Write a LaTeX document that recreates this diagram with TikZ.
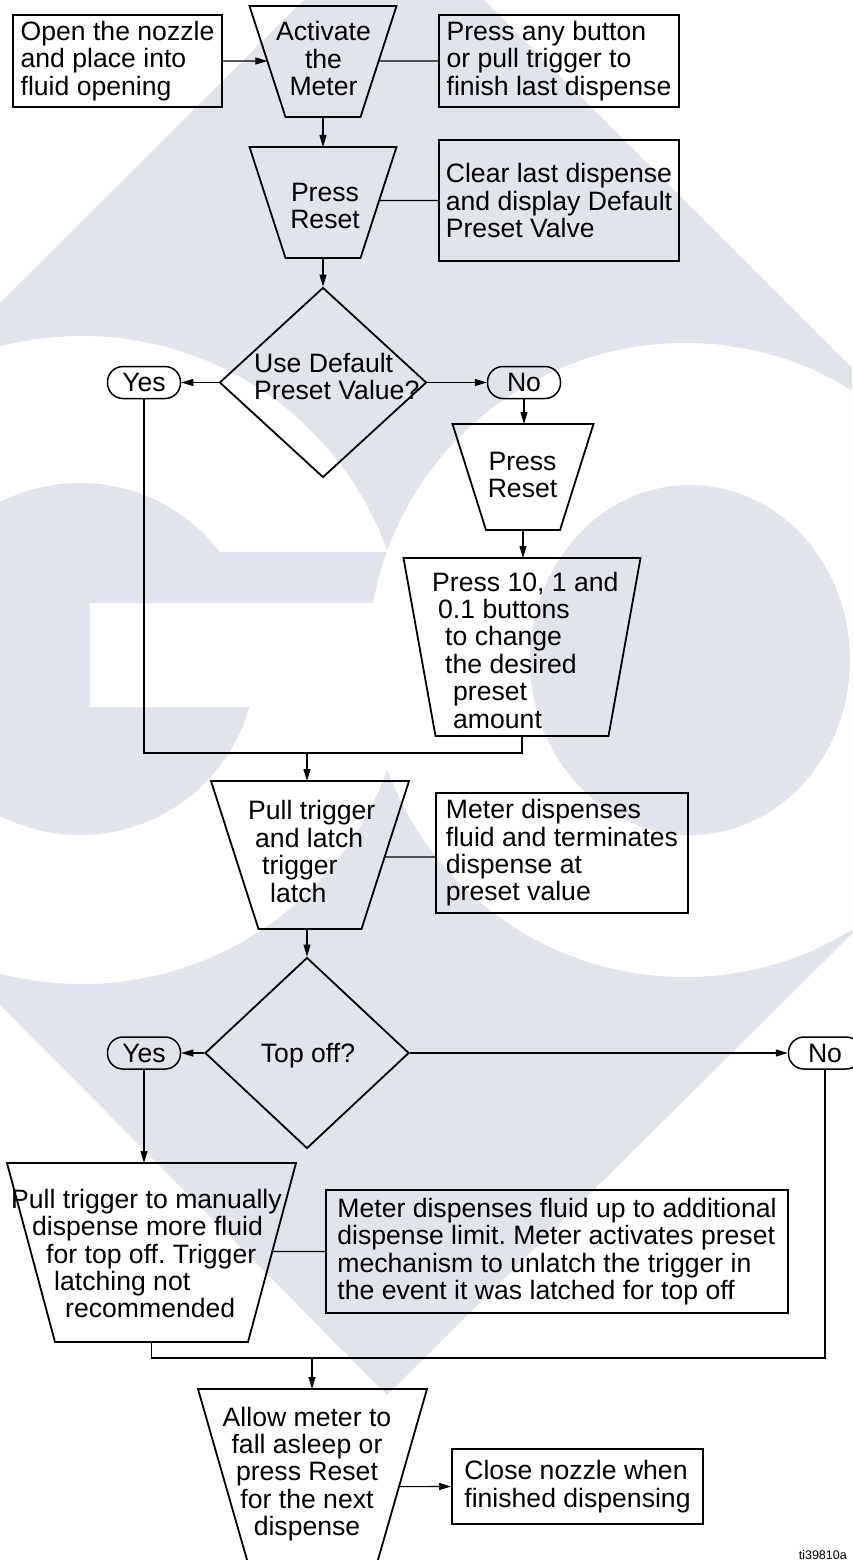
\documentclass[tikz,border=0pt]{standalone}
\usepackage{fontspec}
\setmainfont{Liberation Sans}
\usetikzlibrary{shapes.geometric,arrows.meta,calc}
\definecolor{wmgrey}{RGB}{226,228,235}
\newcommand\mainfs{\fontsize{26.6}{27.4}\selectfont\frenchspacing}
% trapezoid: name, centre x, top y, bottom y, half top width, half bottom width
\newcommand\trapz[6]{%
  \coordinate (#1tl) at ({#2-#5},#3);
  \coordinate (#1tr) at ({#2+#5},#3);
  \coordinate (#1br) at ({#2+#6},#4);
  \coordinate (#1bl) at ({#2-#6},#4);
  \coordinate (#1t) at (#2,#3);
  \coordinate (#1b) at (#2,#4);
  \draw[shp] (#1tl) -- (#1tr) -- (#1br) -- (#1bl) -- cycle;
}
\tikzset{
  shp/.style={draw=black, line width=1.8pt, line join=miter},
  con/.style={draw=black, line width=1.1pt},
  arr/.style={con, -{Triangle[length=12pt,width=7pt]}},
  box/.style={draw=black, line width=1.8pt, inner sep=0pt, align=left},
  term/.style={draw=black, line width=1.5pt, rounded corners=15.5pt, minimum width=73pt, minimum height=32pt, inner sep=0pt},
  dia/.style={draw=black, diamond, line width=1.8pt, inner sep=0pt},
  lbl/.style={inner sep=0pt, align=center},
  lbll/.style={inner sep=0pt, align=left, anchor=west},
}
\begin{document}
\begin{tikzpicture}[x=1pt, y=-1pt, font=\mainfs]
\useasboundingbox (0,0) rectangle (852,1560);
\fill[white] (0,0) rectangle (852,1560);
% watermark
\begin{scope}
  \clip (0,0) rectangle (852,1560);
  \fill[wmgrey] (394,-90) -- (1136,652) -- (387,1395) -- (-350,652) -- cycle;
  \fill[white] (82,660) circle[radius=324];
  \fill[wmgrey] (80,659) circle[radius=176];
  \fill[white] (90,603) rectangle (300,707);
  \fill[wmgrey] (200,552) rectangle (400,603);
  \fill[white] (685,660) circle[radius=317];
  \fill[wmgrey] (690,660) ellipse[x radius=160, y radius=175];
\end{scope}

% trapezoids
\trapz{ta}{323}{6}{117}{73.5}{37.5}
\trapz{tb}{323}{147}{258}{73.5}{37.5}
\trapz{tc}{523}{424}{530}{70.5}{37}
\trapz{td}{522}{558}{736}{118.5}{86.5}
\trapz{te}{310}{781}{929}{99}{51.5}
\trapz{tf}{151.5}{1163}{1342}{144.5}{96.5}
\trapz{tg}{312.5}{1389}{1572}{114.5}{62}

% boxes and texts
\node[box, minimum width=209pt, minimum height=92pt] (b1) at (117.5,61) {Open the nozzle\\and place into\\fluid opening};
\node[lbl] (ta-txt) at (323.5,58.5) {Activate\\the\\Meter};
\node[box, minimum width=240pt, minimum height=92pt] (b3) at (559,61) {Press any button\\or pull trigger to\\finish last dispense};
\node[lbl] (tb-txt) at (325,206) {Press\\Reset};
\node[box, minimum width=240pt, minimum height=121pt] (b4) at (559,200.5) {Clear last dispense\\and display Default\\Preset Valve};

\node[dia, minimum width=207pt, minimum height=190pt] (d1) at (323,382.5) {};
\node[lbll] (d1-txt) at (254,376.5) {Use Default\\Preset Value?};
\node[term] (y1) at (144,382.5) {Yes};
\node[term] (n1) at (524,382.5) {No};

\node[lbl] (tc-txt) at (522.5,475) {Press\\Reset};
\node[lbll] (td-txt) at (432,650) {Press 10, 1 and\\\hspace*{6pt}0.1 buttons\\\hspace*{13pt}to change\\\hspace*{13pt}the desired\\\hspace*{21pt}preset\\\hspace*{21pt}amount};
\coordinate (mrg) at (307,753);

\node[lbll] (te-txt) at (248,851.5) {Pull trigger\\\hspace*{7pt}and latch\\\hspace*{14pt}trigger\\\hspace*{22pt}latch};
\node[box, minimum width=252pt, minimum height=120pt] (b6) at (562,853) {Meter dispenses\\fluid and terminates\\dispense at\\preset value};

\node[dia, minimum width=204pt, minimum height=191pt] (d2) at (307,1053) {};
\node[lbl] (d2-txt) at (308,1056) {Top off?};
\node[term] (y2) at (144,1053) {Yes};
\node[term] (n2) at (825,1053) {No};

\node[lbll] (tf-txt) at (11,1253.5) {Pull trigger to manually\\\hspace*{21pt}dispense more fluid\\\hspace*{35pt}for top off. Trigger\\\hspace*{43pt}latching not\\\hspace*{54pt}recommended};
\node[box, minimum width=462pt, minimum height=123pt] (b7) at (557,1251.5) {Meter dispenses fluid up to additional\\dispense limit. Meter activates preset\\mechanism to unlatch the trigger in\\the event it was latched for top off};
\coordinate (mrg2) at (312,1358);

\node[lbl] (tg-txt) at (307,1474) {Allow meter to\\fall asleep or\\press Reset\\for the next\\dispense};
\node[box, minimum width=251pt, minimum height=75pt] (b8) at (577.5,1486.5) {Close nozzle when\\finished dispensing};
\node[font=\fontsize{12.5}{14}\selectfont, anchor=base east, inner sep=0pt] (tag) at (847,1559) {ti39810a};

% connectors
\draw[arr] (b1.east) -- (intersection of tatl--tabl and b1.west--b1.east);
\draw[con] (intersection of tatr--tabr and b3.west--b3.east) -- (b3.west);
\draw[arr] (tab) -- (tbt);
\draw[con] (intersection of tbtr--tbbr and b4.west--b4.east) -- (b4.west);
\draw[arr] (tbb) -- (d1.north);
\draw[arr] (d1.west) -- (y1.east);
\draw[arr] (d1.east) -- (n1.west);
\draw[arr] (n1.south) -- (n1.south |- tct);
\draw[arr] (tcb) -- (tcb |- tdt);
\draw[con] (y1.south) |- (mrg) -| (tdb);
\draw[arr] (mrg) -- (mrg |- tet);
\coordinate (c6) at ($(b6.west)+(0,4)$);
\coordinate (c6r) at ($(b6.west)+(10,4)$);
\draw[con] (intersection of tetr--tebr and c6--c6r) -- (c6);
\draw[arr] (d2.north |- teb) -- (d2.north);
\draw[arr] (d2.west) -- (y2.east);
\draw[arr] (d2.east) -- (n2.west);
\draw[arr] (y2.south) -- (y2.south |- tft);
\draw[con] (intersection of tftr--tfbr and b7.west--b7.east) -- (b7.west);
\draw[con] (tfb) |- (mrg2) -| (n2.south);
\draw[arr] (mrg2) -- (mrg2 |- tgt);
\draw[arr] (intersection of tgtr--tgbr and b8.west--b8.east) -- (b8.west);
\end{tikzpicture}
\end{document}
